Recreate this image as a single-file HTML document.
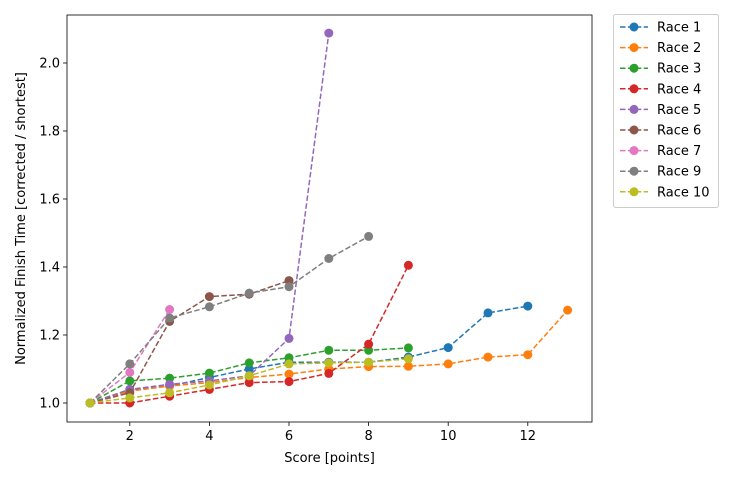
<!DOCTYPE html>
<html><head><meta charset="utf-8"><style>
body{margin:0;background:#fff;font-family:"Liberation Sans","DejaVu Sans",sans-serif}
svg text{font-family:"DejaVu Sans","Liberation Sans",sans-serif;font-size:13px;fill:#000}
</style></head><body>
<svg id="chart" width="736" height="480" viewBox="0 0 736 480" xmlns="http://www.w3.org/2000/svg">
<g id="plot"></g>
</svg>
<script>
const seriesNames=["Race 1","Race 2","Race 3","Race 4","Race 5","Race 6","Race 7","Race 9","Race 10"];
const colors=["#1f77b4","#ff7f0e","#2ca02c","#d62728","#9467bd","#8c564b","#e377c2","#7f7f7f","#bcbd22"];
const race1=[1.0,1.04,1.05,1.075,1.10,1.12,1.12,1.12,1.135,1.163,1.265,1.285];
const race2=[1.0,1.035,1.05,1.06,1.075,1.085,1.10,1.107,1.108,1.115,1.135,1.142,1.273];
const race3=[1.0,1.065,1.073,1.088,1.118,1.133,1.155,1.155,1.162];
const race4=[1.0,1.0,1.02,1.04,1.06,1.063,1.087,1.173,1.405];
const race5=[1.0,1.04,1.055,1.065,1.08,1.19,2.088];
const race6=[1.0,1.03,1.24,1.313,1.32,1.36];
const race7=[1.0,1.09,1.275];
const race9=[1.0,1.115,1.25,1.283,1.323,1.342,1.425,1.49];
const race10=[1.0,1.015,1.03,1.053,1.08,1.115,1.118,1.12,1.13];
const xTicks=[2,4,6,8,10,12];
const yTicks=[1.0,1.2,1.4,1.6,1.8,2.0];
const allSeries=[race1,race2,race3,race4,race5,race6,race7,race9,race10];
const L=67,R=592,T=15,B=422;
const xs=v=>90+(v-1)*39.8;
const ys=v=>403-(v-1)*340;
const NS="http://www.w3.org/2000/svg";
const g=document.getElementById('plot');
function mk(t,a,p){const e=document.createElementNS(NS,t);for(const k in a)e.setAttribute(k,a[k]);(p||g).appendChild(e);return e;}
const frame=mk('rect',{x:L,y:T,width:R-L,height:B-T,fill:'none',stroke:'#000','stroke-width':0.8});


xTicks.forEach(t=>{
  const tk=mk('line',{x1:xs(t),x2:xs(t),y1:B,y2:B+4,stroke:'#000','stroke-width':0.8});
  
  
  const tx=mk('text',{x:xs(t),y:B+18,'text-anchor':'middle'});tx.textContent=t;
  
  
});
yTicks.forEach(t=>{
  const tk=mk('line',{x1:L-4,x2:L,y1:ys(t),y2:ys(t),stroke:'#000','stroke-width':0.8});
  
  
  const tx=mk('text',{x:L-7,y:ys(t)+4.5,'text-anchor':'end'});tx.textContent=t.toFixed(1);
  
  
});
const xt=mk('text',{x:(L+R)/2,y:462,'text-anchor':'middle'});xt.textContent='Score [points]';


const yt=mk('text',{x:0,y:0,'text-anchor':'middle',transform:`translate(25,${(T+B)/2}) rotate(-90)`});yt.textContent='Normalized Finish Time [corrected / shortest]';


allSeries.forEach((s,i)=>{
  const sg=mk('g',{});
  
  
  const pts=s.map((v,j)=>xs(j+1)+','+ys(v)).join(' ');
  const pl=mk('polyline',{points:pts,fill:'none',stroke:colors[i],'stroke-width':1.5,'stroke-dasharray':'5.5,2.4'},sg);
  
  
  s.forEach((v,j)=>{
    const c=mk('circle',{cx:xs(j+1),cy:ys(v),r:4.5,fill:colors[i]},sg);
    
    
  });
});
const lg=mk('g',{},document.getElementById('chart'));


mk('rect',{x:613.5,y:14.5,width:105,height:193,rx:2,fill:'#fff',stroke:'#ccc'},lg);
seriesNames.forEach((n,i)=>{
  const y=27+i*20.6;
  const e=mk('g',{},lg);
  
  
  mk('line',{x1:620,x2:648,y1:y,y2:y,stroke:colors[i],'stroke-width':1.5,'stroke-dasharray':'5.5,2.4'},e);
  mk('circle',{cx:634,cy:y,r:4.5,fill:colors[i]},e);
  const t=mk('text',{x:657,y:y+4.5},e);t.textContent=n;
});
</script>
</body></html>
